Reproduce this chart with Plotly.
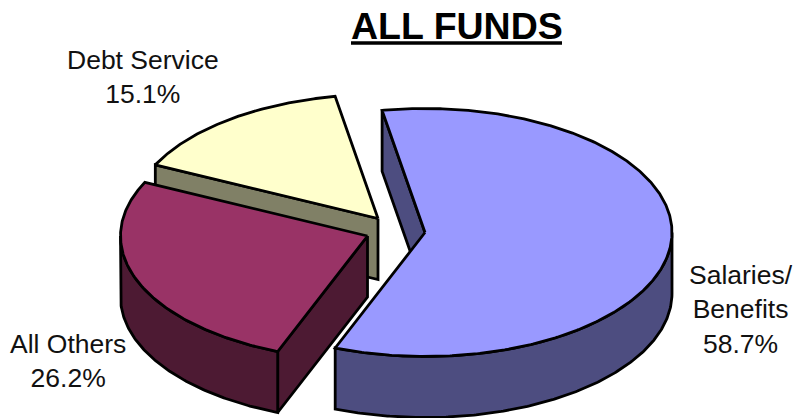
import numpy as np
import plotly.graph_objects as go

# Budget shares, in the order they run clockwise round the pie
categories = ["Salaries/<br>Benefits", "All Others", "Debt Service"]
shares = [58.7, 26.2, 15.1]
top_colors = ["#9999FF", "#993366", "#FFFFCC"]
side_colors = ["#4D4D80", "#4D1A33", "#808066"]

# Where each exploded wedge's apex sits on the page
apex_x = [425, 367.5, 378]
apex_y = [232.5, 236, 218.5]
label_x = [741, 68, 143]
label_y = [309, 361, 76.5]

RX, RY = 247, 124      # projected ellipse radii
DEPTH = 61             # extrusion of the pie
FIRST_ANGLE = -10      # degrees clockwise from twelve o'clock
EDGE = dict(color="black", width=2.8)


def arc(cx, cy, a, b):
    t = np.radians(np.linspace(a, b, max(int(abs(b - a)) * 2, 2)))
    return cx + RX * np.sin(t), cy - RY * np.cos(t)


def poly(fig, xs, ys, color):
    fig.add_trace(go.Scatter(
        x=np.append(xs, xs[0]), y=np.append(ys, ys[0]),
        mode="lines", fill="toself", fillcolor=color, line=EDGE,
        hoverinfo="skip", showlegend=False,
    ))


fig = go.Figure()

bounds = FIRST_ANGLE + np.concatenate([[0], np.cumsum(shares)]) * 3.6
# The back wedge goes first so that nearer wedges overlap it
for i in reversed(range(len(shares))):
    cx, cy, a, b = apex_x[i], apex_y[i], bounds[i], bounds[i + 1]

    # Cut face along the wedge's leading edge
    ex, ey = arc(cx, cy, a, a)
    ex, ey = ex[0], ey[0]
    poly(fig, np.array([cx, ex, ex, cx]),
         np.array([cy, ey, ey + DEPTH, cy + DEPTH]), side_colors[i])

    # Outer wall, only where the rim faces the viewer
    lo, hi = max(a, 90), min(b, 270)
    if hi > lo:
        ax, ay = arc(cx, cy, lo, hi)
        poly(fig, np.concatenate([ax, ax[::-1]]),
             np.concatenate([ay, ay[::-1] + DEPTH]), side_colors[i])

    # Top surface
    ax, ay = arc(cx, cy, a, b)
    poly(fig, np.concatenate([[cx], ax]), np.concatenate([[cy], ay]), top_colors[i])

for i, name in enumerate(categories):
    fig.add_annotation(
        x=label_x[i], y=label_y[i], xref="x", yref="y", showarrow=False,
        text=f"{name}<br>{shares[i]:.1f}%", align="center",
        font=dict(family="Liberation Sans", size=26.5, color="#111111"),
    )

fig.add_annotation(
    x=456.5, y=25.5, xref="x", yref="y", showarrow=False,
    text="<b>ALL FUNDS</b>",
    font=dict(family="Liberation Sans", size=37.5, color="black"),
)
# Heavy rule under the heading
fig.add_shape(type="line", x0=351, x1=562, y0=43, y1=43, xref="x", yref="y",
              line=dict(color="black", width=3.6))

fig.update_layout(
    width=795, height=418, margin=dict(l=0, r=0, t=0, b=0),
    plot_bgcolor="white", paper_bgcolor="white", showlegend=False,
    xaxis=dict(range=[0, 795], visible=False, fixedrange=True),
    yaxis=dict(range=[418, 0], visible=False, fixedrange=True),
)

fig.write_html("out.html", config={"displayModeBar": False})
